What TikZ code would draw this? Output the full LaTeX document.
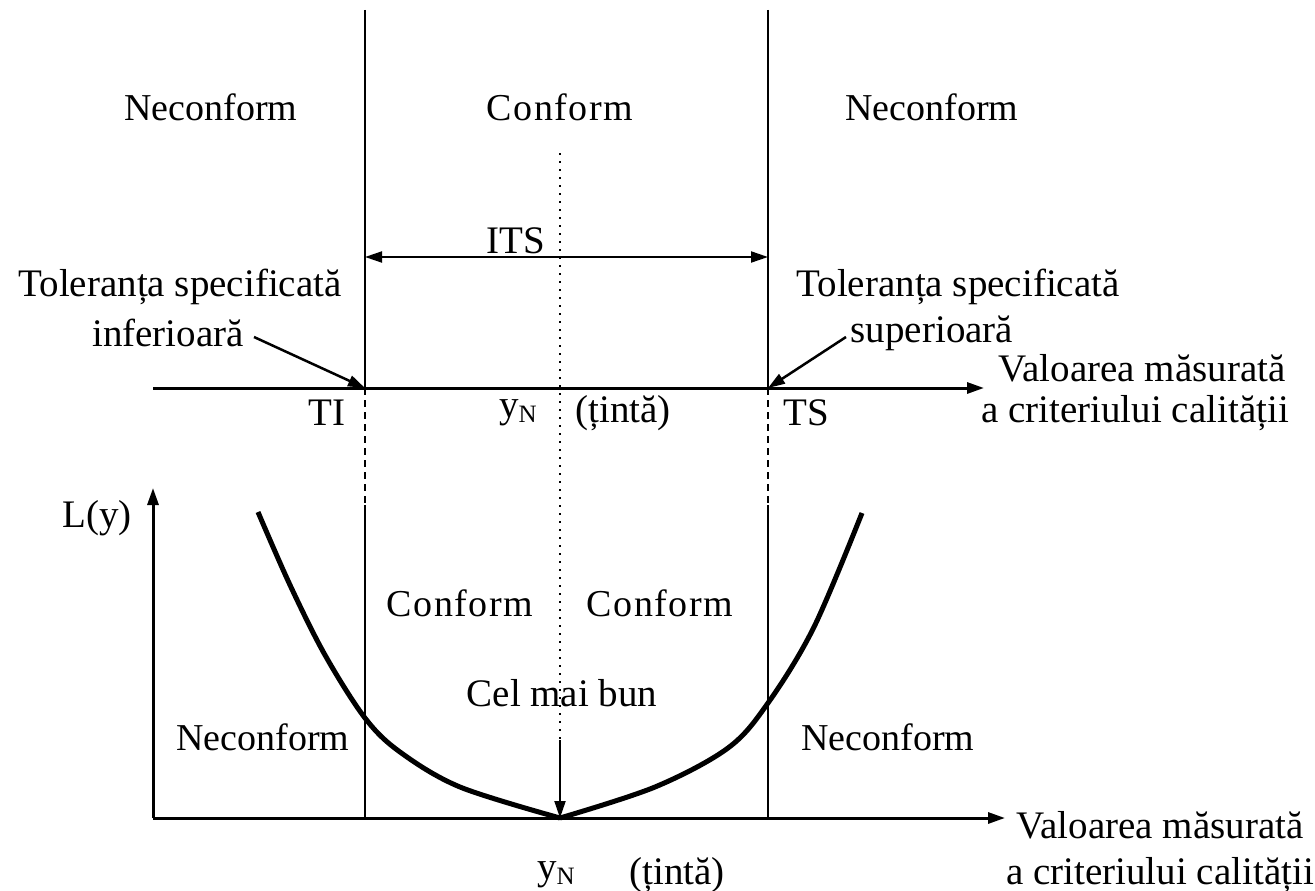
\documentclass[tikz,border=0pt]{standalone}
\usepackage{fontspec}
\setmainfont{Liberation Serif}
\usetikzlibrary{arrows.meta}
\begin{document}
\begin{tikzpicture}[x=1pt,y=-1pt,
  lbl/.style={font=\fontsize{39}{45}\selectfont, inner sep=0pt},
  zone/.style={font=\fontsize{38}{44}\selectfont, inner sep=0pt},
  czone/.style={font=\fontsize{38}{44}\selectfont\addfontfeature{LetterSpace=4}, inner sep=0pt},
  tip/.style={-{Triangle[length=17pt,width=11pt]}},
  thinline/.style={line width=2pt},
  axisline/.style={line width=3pt},
  dashline/.style={line width=2pt, dash pattern=on 7pt off 5pt},
  dotline/.style={line width=1.6pt, dash pattern=on 2pt off 6pt},
  curve/.style={line width=5pt, line join=round}]
\useasboundingbox (0,0) rectangle (1315,891);

% coordinates
\coordinate (Ltop) at (365,10);  \coordinate (Laxis) at (365,388);
\coordinate (Ldash) at (365,505); \coordinate (Lbot) at (365,818);
\coordinate (Rtop) at (768,10);  \coordinate (Raxis) at (768,388);
\coordinate (Rdash) at (768,505); \coordinate (Rbot) at (768,818);
\coordinate (Ctop) at (560,153); \coordinate (Carr) at (560,740);
\coordinate (V) at (560,818);
\coordinate (A1s) at (153,388); \coordinate (A1e) at (984,388);
\coordinate (O) at (153,818); \coordinate (Yend) at (153,488);
\coordinate (Xend) at (1005,818);
\coordinate (ItsL) at (365,257); \coordinate (ItsR) at (768,257);

% vertical limit lines
\draw[thinline] (Ltop) -- (Laxis);
\draw[dashline] (Laxis) -- (Ldash);
\draw[thinline] (Ldash) -- (Lbot);
\draw[thinline] (Rtop) -- (Raxis);
\draw[dashline] (Raxis) -- (Rdash);
\draw[thinline] (Rdash) -- (Rbot);
% target dotted line
\draw[dotline] (Ctop) -- (Carr);

% ITS arrow
\draw[thinline, {Triangle[length=17pt,width=11pt]}-{Triangle[length=17pt,width=11pt]}] (ItsL) -- (ItsR);

% top axis
\draw[axisline, tip] (A1s) -- (A1e);
% bottom axes
\draw[axisline, tip] (O) -- (Xend);
\draw[axisline, tip] (O) -- (Yend);

% loss curve
\draw[curve] plot[smooth, tension=0.55] coordinates {(258,512) (290,585) (325,655) (365,718) (400,752) (460,787) (560,818)};
\draw[curve] plot[smooth, tension=0.55] coordinates {(560,818) (655,787) (728,748) (768,703) (814,627) (862,513)};

% best arrow
\draw[thinline, tip] (Carr) -- (V);

% zone labels (top)
\node[zone] (n1) at (211,107) {Neconform};
\node[czone] (c1) at (560,107) {Conform};
\node[zone] (n2) at (932,107) {Neconform};
\node[lbl] (its) at (516,241) {ITS};

% tolerance labels
\node[lbl] (tl1) at (180,287) {Toleranța specificată};
\node[lbl] (tl2) at (168,333) {inferioară};
\node[lbl] (tr1) at (958,287) {Toleranța specificată};
\node[lbl] (tr2) at (932,333) {superioară};
\coordinate (pl) at (254,337);
\coordinate (pr) at (846,337);
\draw[line width=2.5pt, tip] (pl) -- (Laxis);
\draw[line width=2.5pt, tip] (pr) -- (Raxis);

% top axis labels
\node[lbl] (v1) at (1142,368) {Valoarea măsurată};
\node[lbl] (v2) at (1135,413) {a criteriului calității};
\node[lbl] (ti) at (327,413) {TI};
\node[lbl] (yn1) at (518,413) {y\raisebox{-0.12em}{\fontsize{25}{25}\selectfont N}};
\node[lbl] (tt1) at (623,413) {(țintă)};
\node[lbl] (ts) at (806,413) {TS};

% lower labels
\node[lbl] (ly) at (97,518) {L(y)};
\node[czone] (c2) at (460,603) {Conform};
\node[czone] (c3) at (660,603) {Conform};
\node[lbl] (best) at (562,693) {Cel mai bun};
\node[zone] (n3) at (263,737) {Neconform};
\node[zone] (n4) at (888,737) {Neconform};
\node[lbl] (v3) at (1160,825) {Valoarea măsurată};
\node[lbl] (v4) at (1160,875) {a criteriului calității};
\node[lbl] (yn2) at (556,875) {y\raisebox{-0.12em}{\fontsize{25}{25}\selectfont N}};
\node[lbl] (tt2) at (677,875) {(țintă)};
\end{tikzpicture}
\end{document}
